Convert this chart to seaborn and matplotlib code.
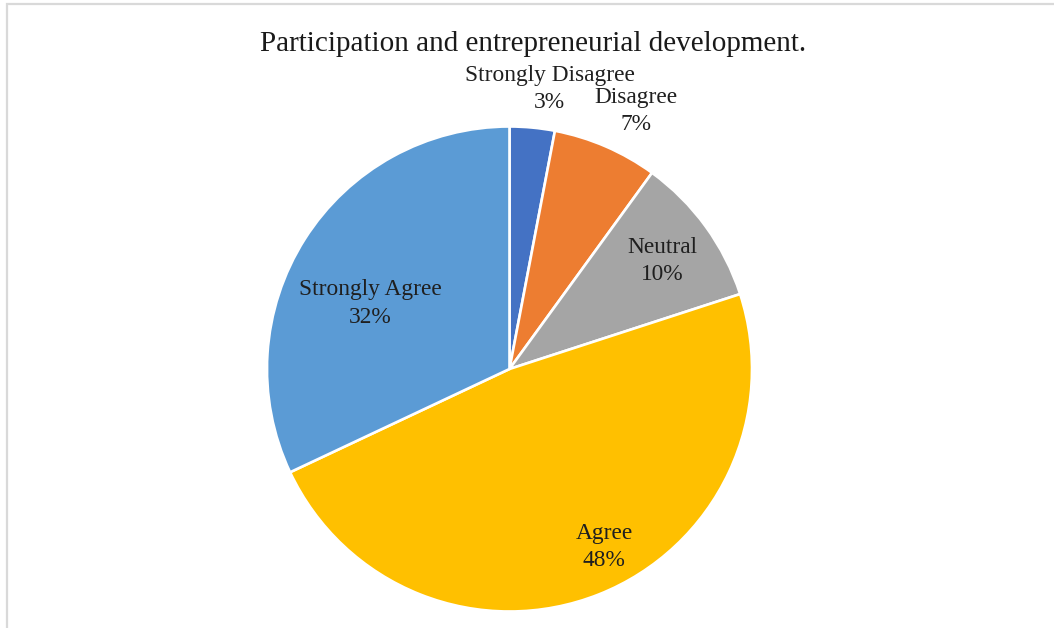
import matplotlib
matplotlib.use("Agg")
import matplotlib.pyplot as plt
import seaborn as sns
from matplotlib.patches import Rectangle

# Survey responses
categories = ["Strongly Disagree", "Disagree", "Neutral", "Agree", "Strongly Agree"]
shares = [3, 7, 10, 48, 32]
colors = ["#4472C4", "#ED7D31", "#A5A5A5", "#FFC000", "#5B9BD5"]
title = "Participation and entrepreneurial development."

# Baseline of each category name in pie (radius = 1) coordinates; the value sits one line below
label_pos = [(0.165, 1.188), (0.522, 1.097), (0.629, 0.478), (0.390, -0.701), (-0.575, 0.304)]
line_gap = 0.113

sns.set_theme(style="white")
plt.rcParams["font.family"] = ["Liberation Serif", "DejaVu Serif"]

fig = plt.figure(figsize=(10.54, 6.28), dpi=100)
fig.patch.set_facecolor("white")

# light frame along the top and left edges
fig.add_artist(Rectangle((6.5 / 1054, -0.1), 1.2, 1.1 - 4.5 / 628, transform=fig.transFigure,
                         fill=False, edgecolor="#d9d9d9", linewidth=1.6))

ax = fig.add_axes([267 / 1054, 16.5 / 628, 485 / 1054, 485 / 628])
ax.pie(shares, colors=colors, startangle=90, counterclock=False, radius=1,
       wedgeprops=dict(edgecolor="white", linewidth=1.9))
ax.set_xlim(-1, 1)
ax.set_ylim(-1, 1)
ax.set_aspect("equal")
ax.axis("off")

for name, val, (x, y) in zip(categories, shares, label_pos):
    ax.text(x, y, name, ha="center", va="baseline", fontsize=16.8, color="#1f1f1f", clip_on=False)
    ax.text(x, y - line_gap, f"{val}%", ha="center", va="baseline", fontsize=16.8,
            color="#1f1f1f", clip_on=False)

fig.text(533.5 / 1054, 1 - 51 / 628, title, ha="center", va="baseline", fontsize=21, color="#1a1a1a")

fig.savefig("out.png", dpi=100, facecolor="white")
